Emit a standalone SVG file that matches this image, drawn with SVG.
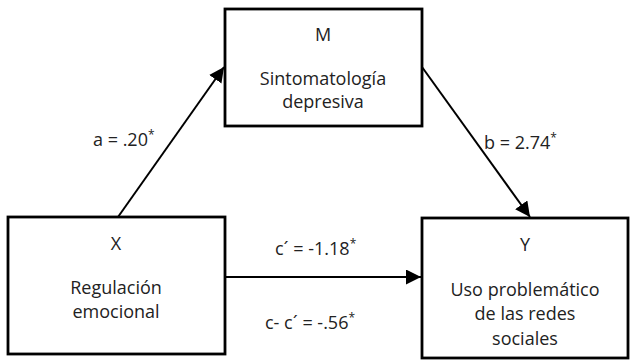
<svg xmlns="http://www.w3.org/2000/svg" width="636" height="361" viewBox="0 0 636 361">
<style>
.box{fill:#fff;stroke:#000;stroke-width:2.8}
.t{font-family:"Open Sans","Noto Sans",sans-serif;font-size:18px;fill:#222;text-anchor:middle}
.l{font-family:"Open Sans","Noto Sans",sans-serif;font-size:18px;fill:#222}
.sup{font-size:12px}
.c{stroke:#000;stroke-width:2;fill:none}
</style>
<defs>
<marker id="ah2" viewBox="0 0 10 10" refX="10" refY="5" markerWidth="15" markerHeight="15" markerUnits="userSpaceOnUse" orient="auto">
<path d="M0,0 L10,5 L0,10 z" fill="#000"/>
</marker>
</defs>
<g id="connectors">
<line class="c" x1="118" y1="217" x2="224" y2="67" marker-end="url(#ah2)"/>
<line class="c" x1="422" y1="67" x2="530" y2="217" marker-end="url(#ah2)"/>
<line class="c" x1="225" y1="277" x2="421" y2="277" marker-end="url(#ah2)"/>
</g>
<g id="node-M">
<rect class="box" x="225" y="9" width="197" height="117"/>
<text class="t" x="323" y="41">M</text>
<text class="t" x="323" y="85">Sintomatología</text>
<text class="t" x="323" y="108">depresiva</text>
</g>
<g id="node-X">
<rect class="box" x="8" y="217" width="217" height="137"/>
<text class="t" x="116" y="250">X</text>
<text class="t" x="116" y="294">Regulación</text>
<text class="t" x="116" y="318">emocional</text>
</g>
<g id="node-Y">
<rect class="box" x="422" y="218" width="206" height="140"/>
<text class="t" x="525" y="251">Y</text>
<text class="t" x="525" y="296">Uso problemático</text>
<text class="t" x="525" y="320">de las redes</text>
<text class="t" x="525" y="345">sociales</text>
</g>
<g id="labels">
<text class="l" x="93" y="146">a = .20<tspan class="sup" dy="-7">*</tspan></text>
<text class="l" x="484" y="149">b = 2.74<tspan class="sup" dy="-7">*</tspan></text>
<text class="l" x="275" y="255">c´ = -1.18<tspan class="sup" dy="-7">*</tspan></text>
<text class="l" x="265" y="329">c- c´ = -.56<tspan class="sup" dy="-7">*</tspan></text>
</g>
</svg>
